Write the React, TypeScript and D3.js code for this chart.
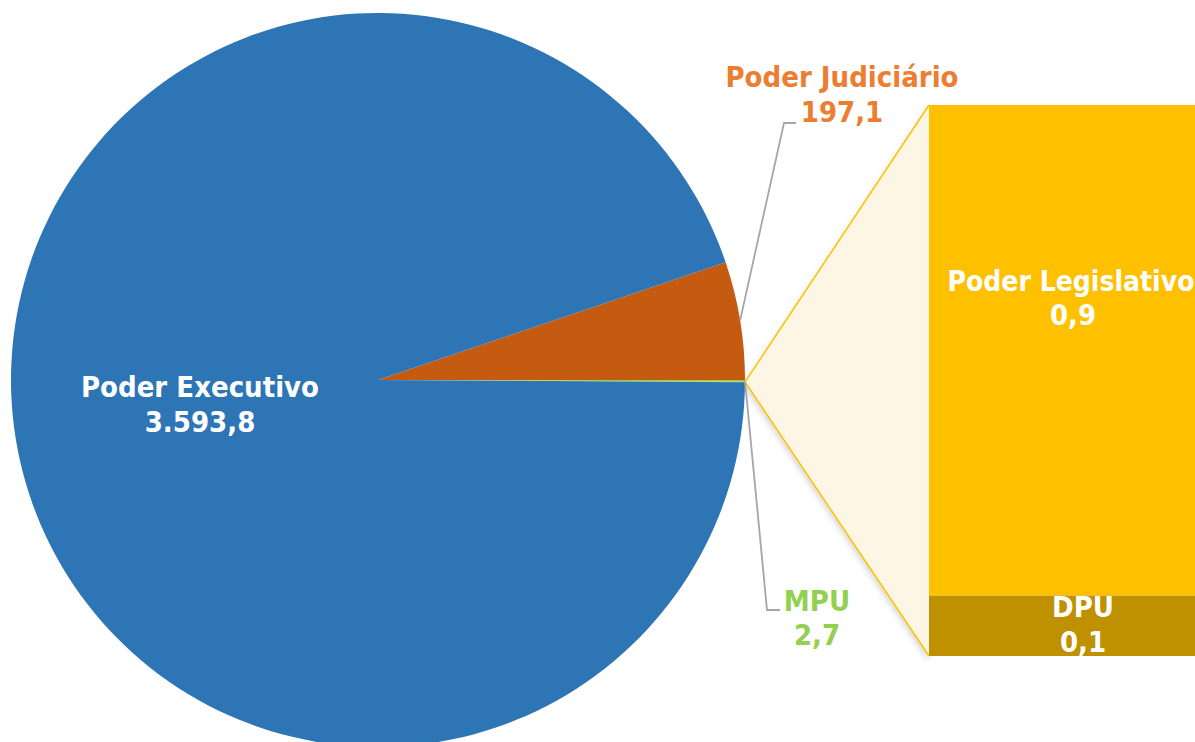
import React from "react";
import * as d3 from "d3";

// values in R$ bilhões
const pieNames = ["Poder Judiciário", "MPU", "Outros", "Poder Executivo"];
const pieValues = [197.1, 2.7, 1.0, 3593.8];
const pieColors = ["#C55A11", "#92D050", "#FFC000", "#2E75B6"];

const barNames = ["DPU", "Poder Legislativo"];
const barValues = [0.11, 0.89];
const barLabels = [0.1, 0.9];
const barColors = ["#BF9000", "#FFC000"];

const W = 1195;
const H = 742;
const cx = 378;
const cy = 380;
const R = 367;

const ptBR = d3.formatLocale({
  decimal: ",",
  thousands: ".",
  grouping: [3],
  currency: ["R$", ""],
});
const fmt = ptBR.format(",.1f");

const FONT = "'DejaVu Sans Condensed', 'DejaVu Sans', Verdana, sans-serif";

export default function App() {
  const total = d3.sum(pieValues);
  const judAngle = (pieValues[0] / total) * 2 * Math.PI;
  const start = Math.PI / 2 - judAngle;

  const pie = d3
    .pie<number>()
    .sort(null)
    .startAngle(start)
    .endAngle(start + 2 * Math.PI);
  const arcs = pie(pieValues);
  const arc = d3.arc<d3.PieArcDatum<number>>().innerRadius(0).outerRadius(R);

  const polar = (a: number, r: number): [number, number] => [
    cx + r * Math.sin(a),
    cy - r * Math.cos(a),
  ];

  // bar (pie of bar)
  const barX0 = 929;
  const barX1 = 1237;
  const y = d3.scaleLinear().domain([0, d3.sum(barValues)]).range([656, 105]);
  const stack: { lo: number; hi: number }[] = [];
  let acc = 0;
  barValues.forEach((v) => {
    stack.push({ lo: acc, hi: acc + v });
    acc += v;
  });

  const other = arcs[2];
  const op = polar((other.startAngle + other.endAngle) / 2, R);
  const judMid = polar((arcs[0].startAngle + arcs[0].endAngle) / 2, R);
  const mpuMid = polar((arcs[1].startAngle + arcs[1].endAngle) / 2, R);

  const line = d3.line();

  return (
    <svg
      width={W}
      height={H}
      style={{ position: "absolute", left: 0, top: 0, background: "#fff" }}
      fontFamily={FONT}
      fontWeight="bold"
    >
      <defs>
        <filter id="sh" x="-20%" y="-20%" width="140%" height="140%">
          <feDropShadow dx="0" dy="4" stdDeviation="3" floodColor="#000" floodOpacity="0.18" />
        </filter>
      </defs>

      <g transform={`translate(${cx},${cy})`}>
        {arcs.map((a, i) => (
          <path key={pieNames[i]} d={arc(a) || ""} fill={pieColors[i]} />
        ))}
      </g>

      {/* connector area */}
      <g filter="url(#sh)">
        <path
          d={`M${op[0]},${op[1]}L${barX0},${y(d3.sum(barValues))}L${barX0},${y(0)}Z`}
          fill="#FEF6E4"
        />
        <path
          d={`M${barX0},${y(d3.sum(barValues))}L${op[0]},${op[1]}L${barX0},${y(0)}`}
          fill="none"
          stroke="#FFC000"
          strokeWidth={1.5}
        />
      </g>

      {stack.map((s, i) => (
        <rect
          key={barNames[i]}
          x={barX0}
          width={barX1 - barX0}
          y={y(s.hi)}
          height={y(s.lo) - y(s.hi)}
          fill={barColors[i]}
        />
      ))}

      {/* leader lines */}
      <path
        d={line([judMid, [784, 123], [796, 123]]) || ""}
        fill="none"
        stroke="#A6A6A6"
        strokeWidth={1.8}
      />
      <path
        d={line([mpuMid, [767, 610], [780, 610]]) || ""}
        fill="none"
        stroke="#A6A6A6"
        strokeWidth={1.8}
      />

      <g fontSize={29} textAnchor="middle" style={{ fontStretch: "condensed" }}>
        <text x={200} y={397} fill="#fff">
          <tspan x={200}>{pieNames[3]}</tspan>
          <tspan x={200} dy={35}>{fmt(pieValues[3])}</tspan>
        </text>
        <text x={842} y={87} fill="#ED7D31">
          <tspan x={842}>{pieNames[0]}</tspan>
          <tspan x={842} dy={35}>{fmt(pieValues[0])}</tspan>
        </text>
        <text x={817} y={611} fill="#92D050">
          <tspan x={817}>{pieNames[1]}</tspan>
          <tspan x={817} dy={34}>{fmt(pieValues[1])}</tspan>
        </text>
        <text x={1071} y={291} fill="#fff">
          <tspan x={1071} fontSize={28}>{barNames[1]}</tspan>
          <tspan x={1073} dy={34}>{fmt(barLabels[1])}</tspan>
        </text>
        <text x={1083} y={617} fill="#fff">
          <tspan x={1083}>{barNames[0]}</tspan>
          <tspan x={1083} dy={35}>{fmt(barLabels[0])}</tspan>
        </text>
      </g>
    </svg>
  );
}
